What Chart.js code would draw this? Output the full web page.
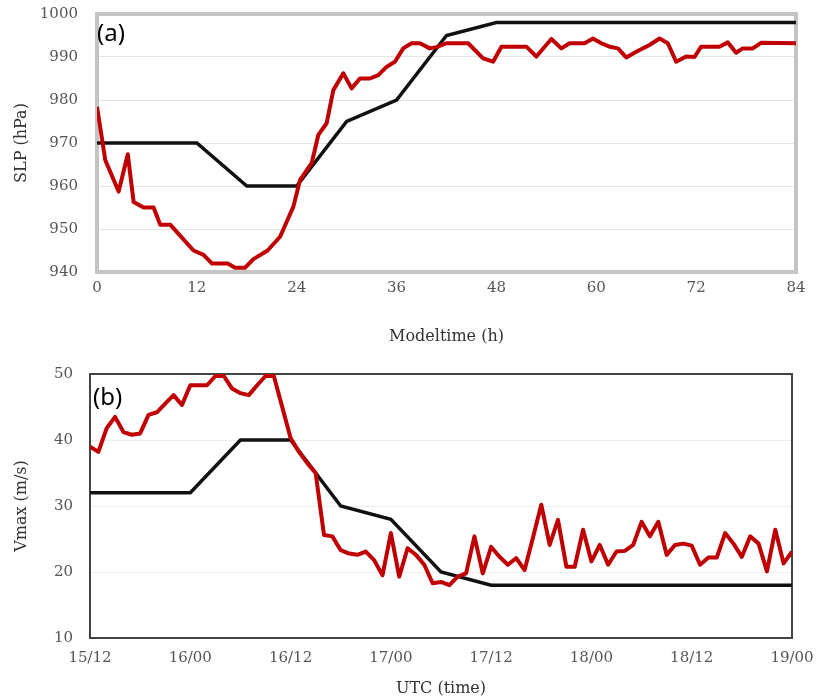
<!DOCTYPE html>
<html><head><meta charset="utf-8">
<script src="https://cdn.jsdelivr.net/npm/chart.js@4.4.0/dist/chart.umd.min.js"></script>
<style>
html,body{margin:0;padding:0;background:#fff;}
#wrap{position:relative;width:819px;height:700px;overflow:hidden;background:#fff;}
canvas{position:absolute;left:0;}
</style></head><body>
<div id="wrap">
<canvas id="c1" width="819" height="350" style="top:0"></canvas>
<canvas id="c2" width="819" height="350" style="top:350px"></canvas>
</div>
<script>
// ---------- Panel (a): SLP ----------
const topTickValues = [0, 12, 24, 36, 48, 60, 72, 84];
const topBlackT = [0, 12, 18, 24, 30, 36, 42, 48, 84];
const topBlackV = [970, 970, 960, 960, 975, 980, 995, 998, 998];
const topRedT = [0, 1.0, 2.6, 3.7, 4.4, 5.6, 6.8, 7.6, 8.8, 10.2, 11.6, 12.8, 13.8, 15.7, 16.6, 17.8, 18.8, 20.5, 22.0, 23.6, 24.4, 25.8, 26.6, 27.6, 28.4, 29.6, 30.6, 31.6, 32.8, 33.8, 34.8, 35.8, 36.8, 37.8, 38.8, 40.0, 40.8, 42.0, 44.6, 46.4, 47.6, 48.6, 51.6, 52.8, 54.6, 55.8, 56.8, 58.6, 59.6, 60.6, 61.6, 62.6, 63.6, 64.8, 66.4, 67.6, 68.6, 69.6, 70.8, 71.8, 72.6, 74.8, 75.8, 76.8, 77.6, 78.8, 79.8, 84];
const topRedV = [978.4, 966, 958.7, 967.4, 956.3, 955, 955, 951, 951, 948, 945, 944, 942, 942, 941, 941, 943, 945, 948.2, 955.2, 961.4, 965.3, 971.9, 974.6, 982.3, 986.2, 982.7, 985, 985, 985.8, 987.7, 988.9, 992, 993.2, 993.2, 992, 992.3, 993.2, 993.2, 989.7, 988.9, 992.4, 992.4, 990.1, 994.2, 992, 993.2, 993.2, 994.3, 993.2, 992.4, 992, 989.9, 991.2, 992.8, 994.3, 993.2, 988.9, 990.1, 990, 992.4, 992.4, 993.4, 991, 992, 992, 993.3, 993.2];

// ---------- Panel (b): Vmax ----------
const botTickLabels = ['15/12', '16/00', '16/12', '17/00', '17/12', '18/00', '18/12', '19/00'];
const botBlackT = [0, 12, 18, 24, 30, 36, 42, 48, 84];
const botBlackV = [32, 32, 40, 40, 30, 28, 20, 18, 18];
const botRedV = [39.0,38.2,41.8,43.5,41.2,40.8,41.0,43.8,44.2,45.5,
  46.8,45.3,48.3,48.3,48.3,49.7,49.7,47.8,47.1,46.8,
  48.3,49.7,49.7,45.0,40.3,38.2,36.5,35.0,25.6,25.4,
  23.3,22.8,22.6,23.1,21.8,19.5,25.9,19.3,23.6,22.6,
  21.1,18.3,18.5,18.0,19.3,19.8,25.4,19.8,23.8,22.3,
  21.1,22.1,20.3,25.2,30.2,24.1,27.9,20.8,20.8,26.4,
  21.6,24.1,21.1,23.1,23.2,24.1,27.6,25.4,27.6,22.6,
  24.1,24.3,24.0,21.1,22.2,22.2,25.9,24.3,22.3,25.4,
  24.3,20.1,26.4,21.3,23.1];

const RED = '#c00000';
const BLACK = '#111111';
const tickFont = {family: 'DejaVu Serif', size: 15};
const titleFont = {family: 'DejaVu Serif', size: 16};

function pts(t, v) { return t.map((x, i) => ({x: x, y: v[i]})); }

function boxPlugin(color, width, label, lx, ly) {
  return {
    id: 'box',
    beforeDatasetsDraw(chart) {
      const a = chart.chartArea, ctx = chart.ctx;
      ctx.save();
      ctx.strokeStyle = color; ctx.lineWidth = width;
      ctx.strokeRect(a.left, a.top, a.right - a.left, a.bottom - a.top);
      ctx.restore();
    },
    afterDraw(chart) {
      const ctx = chart.ctx;
      ctx.save();
      ctx.fillStyle = '#000';
      ctx.font = '24px "Noto Sans"';
      ctx.textBaseline = 'alphabetic';
      ctx.textAlign = 'left';
      ctx.fillText(label, lx, ly);
      ctx.restore();
    }
  };
}

new Chart(document.getElementById('c1'), {
  type: 'line',
  data: {datasets: [
    {data: pts(topRedT, topRedV), borderColor: RED, borderWidth: 4, pointRadius: 0, tension: 0, borderJoinStyle: 'round'},
    {data: pts(topBlackT, topBlackV), borderColor: BLACK, borderWidth: 3.5, pointRadius: 0, tension: 0}
  ]},
  options: {
    responsive: false, animation: false,
    layout: {padding: {top: 14, right: 23, left: 0, bottom: 0}},
    plugins: {legend: {display: false}, tooltip: {enabled: false}},
    scales: {
      x: {type: 'linear', min: 0, max: 84,
        afterBuildTicks(s) { s.ticks = topTickValues.map(v => ({value: v})); },
        ticks: {padding: 7, font: tickFont, color: '#555', maxRotation: 0, callback: (v) => String(v)},
        grid: {display: false, drawTicks: false}, border: {display: false},
        title: {display: true, text: 'Modeltime (h)', font: titleFont, color: '#333', padding: {top: 0, bottom: 4}},
        afterFit(s) { s.height = 78; s.paddingLeft = 0; s.paddingRight = 0; }},
      y: {type: 'linear', min: 940, max: 1000,
        ticks: {stepSize: 10, padding: 19, font: tickFont, color: '#555', callback: (v) => String(v)},
        grid: {color: '#e4e4e4', drawTicks: false}, border: {display: false},
        title: {display: true, text: 'SLP (hPa)', font: titleFont, color: '#333', padding: {top: 12, bottom: 0}},
        afterFit(s) { s.width = 97; s.paddingTop = 0; s.paddingBottom = 0; }}
    }
  },
  plugins: [boxPlugin('#c4c4c4', 4, '(a)', 97, 41)]
});

new Chart(document.getElementById('c2'), {
  type: 'line',
  data: {datasets: [
    {data: botRedV.map((v, i) => ({x: i, y: v})), borderColor: RED, borderWidth: 4, pointRadius: 0, tension: 0, borderJoinStyle: 'round'},
    {data: pts(botBlackT, botBlackV), borderColor: BLACK, borderWidth: 3.5, pointRadius: 0, tension: 0}
  ]},
  options: {
    responsive: false, animation: false,
    layout: {padding: {top: 24, right: 27, left: 0, bottom: 0}},
    plugins: {legend: {display: false}, tooltip: {enabled: false}},
    scales: {
      x: {type: 'linear', min: 0, max: 84,
        afterBuildTicks(s) { s.ticks = botTickLabels.map((l, i) => ({value: i * 12})); },
        ticks: {padding: 11, font: tickFont, color: '#555', maxRotation: 0,
          callback: (v) => botTickLabels[Math.round(v / 12)]},
        grid: {display: false, drawTicks: false}, border: {display: false},
        title: {display: true, text: 'UTC (time)', font: titleFont, color: '#333', padding: {top: 0, bottom: 2}},
        afterFit(s) { s.height = 62; s.paddingLeft = 0; s.paddingRight = 0; }},
      y: {type: 'linear', min: 10, max: 50,
        ticks: {stepSize: 10, padding: 17, font: tickFont, color: '#555', callback: (v) => String(v)},
        grid: {color: '#eeeeee', drawTicks: false}, border: {display: false},
        title: {display: true, text: 'Vmax (m/s)', font: titleFont, color: '#333', padding: {top: 12, bottom: 0}},
        afterFit(s) { s.width = 90; s.paddingTop = 0; s.paddingBottom = 0; }}
    }
  },
  plugins: [boxPlugin('#444444', 2, '(b)', 93, 405 - 350)]
});
</script>
</body></html>
